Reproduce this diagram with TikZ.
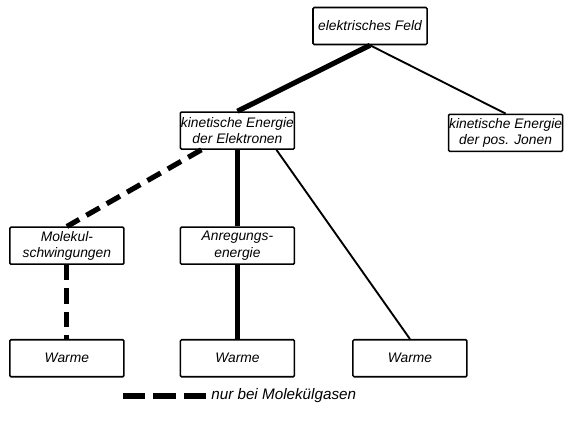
\documentclass[tikz,border=0pt]{standalone}
\usepackage{fontspec}
\setmainfont{Liberation Sans}
\usetikzlibrary{positioning}
\tikzset{
    box/.style={
        shape=rectangle,
        draw=black,
        line width=1.3pt,
        rounded corners=1pt,
        align=center,
        minimum height=1.11cm,
        minimum width=3.42cm,
        inner xsep=0.5pt,
        inner ysep=2pt,
        font=\fontsize{11.8}{14}\selectfont\itshape
    },
    main/.style={
    	line width=4.4pt,
    },
    side/.style={
    	line width=1.6pt,
    },
    gas/.style={
    	line width=4.4pt,
    	dash pattern=on 13pt off 7pt
    }
}

\begin{document}
\begin{tikzpicture}[x=0.03cm, y=-0.03cm]
    \useasboundingbox (0,0) rectangle (573,420);

    \node[box] (feld) at (370,26) {elektrisches Feld};

    \node[box, below left=1.98cm and 0.51cm of feld] (kinel) {kinetische Energie\\der Elektronen};
    \node[box, below right=2.05cm and 0.6cm of feld] (kinion) {kinetische Energie\\der pos. Jonen};

    \node[box, below=2.3cm of kinel] (anreg) {Anregungs-\\energie};
    \node[box, left=1.65cm of anreg] (molek) {Molekul-\\schwingungen};

    \node[box, below=2.22cm of anreg] (waerme2) {Warme};
    \node[box, left=1.65cm of waerme2] (waerme1) {Warme};
    \node[box, right=1.71cm of waerme2] (waerme3) {Warme};

    \begin{scope} % connections
    	\draw[main] (feld.south) -- (kinel.north);
    	\draw[side] (feld.south) -- (kinion.north);

    	\draw[gas] ([xshift=-1.08cm]kinel.south) -- (molek.north);
    	\draw[main] (kinel.south) -- (anreg.north);
    	\draw[side] ([xshift=1.17cm]kinel.south) -- (waerme3.north);

    	\draw[gas] (molek.south) -- (waerme1.north);
    	\draw[main] (anreg.south) -- (waerme2.north);
    \end{scope}

    \begin{scope} % legend
    	\coordinate (lega) at (123,396);
    	\coordinate (legb) at (206,396);
    	\draw[gas, dash pattern=on 19pt off 7pt] (lega) -- (legb);
    	\node[right=1pt of legb, font=\fontsize{13}{15}\selectfont\itshape] (legtext) {nur bei Molekülgasen};
    \end{scope}
\end{tikzpicture}
\end{document}
